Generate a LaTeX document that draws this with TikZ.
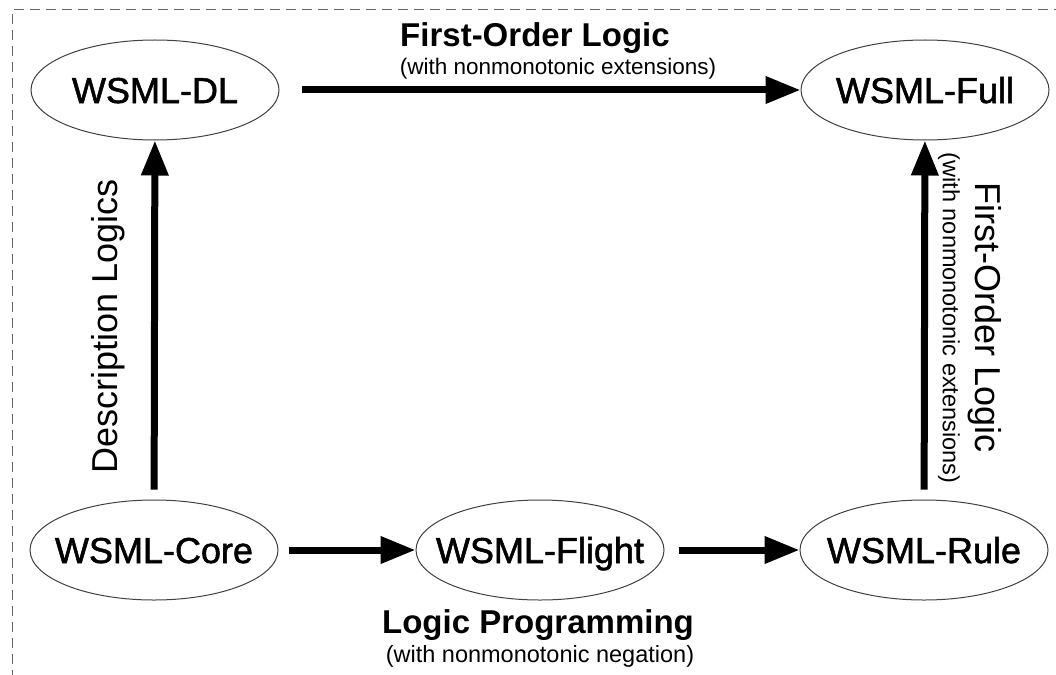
\documentclass[tikz,border=0pt]{standalone}
\usepackage{fontspec}
\setmainfont{Liberation Sans}
\newfontfamily\heavyfont{Liberation Sans}[FakeBold=1.5]
\usetikzlibrary{shapes.geometric,arrows.meta}
\tikzset{
  ell/.style={ellipse, draw=black!75, line width=1pt, minimum width=248pt, minimum height=100pt, inner sep=0pt,
    text height=26pt, text depth=0pt, font=\heavyfont\fontsize{36}{40}\selectfont},
  conn/.style={line width=7pt, -{Triangle[length=35pt,width=26pt]}, shorten <=10pt},
  biglab/.style={font=\fontsize{33}{38}\selectfont\bfseries, inner sep=0pt, anchor=base},
  sidelab/.style={font=\fontsize{36}{40}\selectfont, inner sep=0pt},
  smalllab/.style={font=\fontsize{23.5}{26}\selectfont, inner sep=0pt},
  border/.style={draw=black!60, line width=1pt, dash pattern=on 10pt off 6pt}
}
\begin{document}
\begin{tikzpicture}[x=1pt,y=-1pt]
\useasboundingbox (0,0) rectangle (1056,674);
\coordinate (bl) at (12,680);
\coordinate (tl) at (12,10);
\coordinate (tr) at (1060,10);
\draw[border] (bl) -- (tl) -- (tr);

\node[ell] (dl) at (155,90) {\makebox[0pt][c]{WSML-DL}};
\node[ell] (full) at (925,90) {\makebox[0pt][c]{WSML-Full}};
\node[ell] (core) at (154,550) {\makebox[0pt][c]{WSML-Core}};
\node[ell] (flight) at (540,550) {\makebox[0pt][c]{WSML-Flight}};
\node[ell] (rule) at (924,550) {\makebox[0pt][c]{WSML-Rule}};

\draw[conn, shorten <=22pt] (dl) -- (full);
\draw[conn] (core) -- (flight);
\draw[conn, shorten <=14pt] (flight) -- (rule);
\draw[conn] (core) -- (dl);
\draw[conn] (rule) -- (full);

\node[biglab] (fol1) at (535,47) {First-Order Logic};
\node[smalllab, anchor=base, font=\fontsize{22.5}{26}\selectfont] (fol1s) at (558,75) {(with nonmonotonic extensions)};
\node[biglab] (lp) at (538,633) {Logic Programming};
\node[smalllab, anchor=base] (lps) at (540,662) {(with nonmonotonic negation)};
\node[sidelab, rotate=90] (desc) at (108,326) {Description Logics};
\node[sidelab, rotate=-90] (fol2) at (985,318) {First-Order Logic};
\node[smalllab, rotate=-90] (fol2s) at (949,318) {(with nonmonotonic extensions)};
\end{tikzpicture}
\end{document}
